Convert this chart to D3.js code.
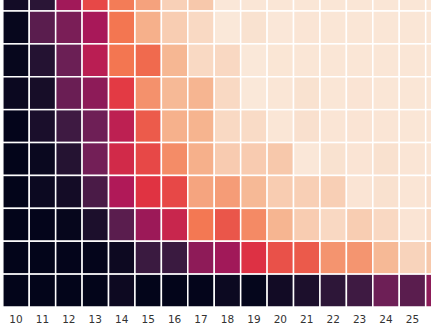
<!DOCTYPE html>
<html>
<head>
<meta charset="utf-8">
<script src="https://cdn.jsdelivr.net/npm/d3@7"></script>
<style>
  body { margin: 0; background: #fff; }
  svg { display: block; }
  .axis text { font-family: "DejaVu Sans", sans-serif; font-size: 10.5px; fill: #333; }
</style>
</head>
<body>
<div id="chart"></div>
<script>
// column labels along the bottom (last column is cut off by the frame)
const columns = [10, 11, 12, 13, 14, 15, 16, 17, 18, 19, 20, 21, 22, 23, 24, 25, 26];
// labels that are actually shown
const tickLabels = [10, 11, 12, 13, 14, 15, 16, 17, 18, 19, 20, 21, 22, 23, 24, 25];

// cell values, top row first (0 = darkest, 1 = lightest)
const row0 = [0.047, 0.112, 0.40, 0.616, 0.728, 0.815, 0.93, 0.909, 0.99, 0.987, 0.987, 0.987, 0.987, 0.987, 0.987, 0.987, 0.987];
const row1 = [0.011, 0.233, 0.309, 0.417, 0.714, 0.848, 0.922, 0.953, 0.992, 0.977, 0.99, 0.985, 0.988, 0.988, 0.988, 0.988, 0.988];
const row2 = [0.011, 0.094, 0.274, 0.465, 0.714, 0.688, 0.865, 0.953, 0.95, 0.992, 0.986, 0.988, 0.988, 0.988, 0.988, 0.988, 0.988];
const row3 = [0.023, 0.057, 0.271, 0.354, 0.586, 0.776, 0.87, 0.86, 0.953, 0.992, 0.988, 0.977, 0.988, 0.983, 0.988, 0.988, 0.988];
const row4 = [0.003, 0.066, 0.165, 0.281, 0.473, 0.656, 0.851, 0.857, 0.953, 0.958, 0.988, 0.972, 0.985, 0.983, 0.985, 0.988, 0.985];
const row5 = [0.0, 0.02, 0.097, 0.293, 0.528, 0.616, 0.765, 0.848, 0.917, 0.917, 0.909, 0.99, 0.977, 0.983, 0.975, 0.985, 0.985];
const row6 = [0.0, 0.026, 0.049, 0.194, 0.437, 0.569, 0.616, 0.82, 0.802, 0.87, 0.92, 0.927, 0.927, 0.983, 0.975, 0.985, 0.97];
const row7 = [0.0, 0.003, 0.009, 0.072, 0.233, 0.389, 0.503, 0.719, 0.646, 0.76, 0.86, 0.92, 0.95, 0.922, 0.95, 0.983, 0.958];
const row8 = [0.0, 0.0, 0.003, 0.003, 0.029, 0.155, 0.155, 0.356, 0.40, 0.561, 0.635, 0.654, 0.783, 0.785, 0.87, 0.938, 0.909];
const row9 = [0.0, 0.0, 0.0, 0.0, 0.029, 0.0, 0.0, 0.003, 0.026, 0.006, 0.043, 0.072, 0.12, 0.165, 0.279, 0.233, 0.352];
const rows = [row0, row1, row2, row3, row4, row5, row6, row7, row8, row9];

// seaborn "rocket" colour map, sampled at 0, 1/7, ..., 1
const rocket = ['#03051a', '#35193e', '#701f57', '#ad1759', '#e13342', '#f37651', '#f6b48f', '#faebdd'];

const width = 431;
const height = 335;

const svg = d3.select('#chart').append('svg')
  .attr('width', width)
  .attr('height', height);

// the picture is a crop: first column starts near the left edge, top row is cut
const colStep = 26.43;
const rowStep = 32.89;
const x = d3.scaleBand()
  .domain(columns)
  .range([2.8, 2.8 + colStep * columns.length])
  .padding(0);
const y = d3.scaleBand()
  .domain(d3.range(rows.length))
  .range([307 - rowStep * rows.length, 307])
  .padding(0);

const color = d3.scaleSequential(d3.piecewise(d3.interpolateRgb, rocket))
  .domain([0, 1]);

const cells = [];
rows.forEach((r, i) => {
  r.forEach((v, j) => cells.push({ row: i, col: columns[j], value: v }));
});

svg.append('g')
  .selectAll('rect')
  .data(cells)
  .enter()
    .append('rect')
    .attr('x', d => x(d.col))
    .attr('y', d => y(d.row))
    .attr('width', x.bandwidth())
    .attr('height', y.bandwidth())
    .attr('fill', d => color(d.value))
    .attr('stroke', '#fff')
    .attr('stroke-width', 1.5);

const xAxis = d3.axisBottom(x)
  .tickValues(tickLabels)
  .tickSize(0)
  .tickPadding(8.4);

svg.append('g')
  .attr('class', 'axis')
  .attr('transform', 'translate(0, 307)')
  .call(xAxis)
  .call(g => g.select('.domain').remove());
</script>
</body>
</html>
